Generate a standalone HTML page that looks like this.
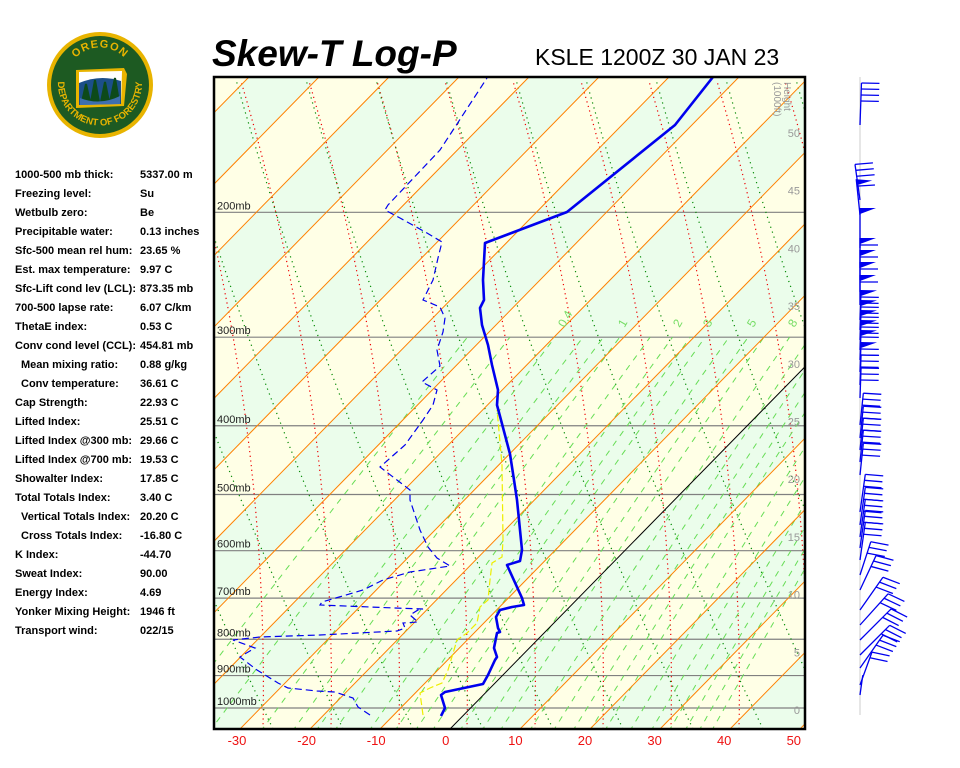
<!DOCTYPE html>
<html><head><meta charset="utf-8"><style>
html,body{margin:0;padding:0;background:#fff;width:960px;height:768px;overflow:hidden}
#p{position:absolute;left:0;top:0;width:960px;height:768px;font-family:"Liberation Sans",Arial,sans-serif}
.t{position:absolute;font-size:11px;font-weight:bold;color:#000;white-space:nowrap}
</style></head><body><div id="p">
<svg id="s" width="960" height="768" xmlns="http://www.w3.org/2000/svg" style="position:absolute;left:0;top:0">
<defs>
<clipPath id="c"><rect x="214" y="77" width="591" height="652"/></clipPath>
<path id="arcT" d="M68,70 A34,34 0 0 1 132,70"/>
<path id="arcB" d="M61,68 A42,42 0 1 0 139,68"/>
</defs>
<g id="logo">
<circle cx="100" cy="85" r="53" fill="#e8b400"/>
<circle cx="100" cy="85" r="49" fill="#1d5a22"/>
<path d="M76,70 L124,68 L127,74 L124,106 L76,108 Z" fill="#e8b400"/>
<path d="M79,72 L122,71 L121,104 L79,105 Z" fill="#fff"/>
<path d="M79,83 Q100,74 121,81 L121,104 L79,105 Z" fill="#1c4f8a"/>
<path d="M82,102 L86,84 L90,102 M91,102 L95,80 L99,102 M101,102 L105,82 L109,102 M110,102 L115,78 L119,102" fill="#0d4a1a" stroke="#0d4a1a" stroke-width="2"/>
<path d="M80,98 Q100,106 120,96 L120,104 L80,105Z" fill="#3e6fb0"/>
<text font-family="Liberation Sans,sans-serif" font-size="11" font-weight="bold" fill="#e8b400" letter-spacing="1"><textPath href="#arcT" startOffset="50%" text-anchor="middle">OREGON</textPath></text>
<text font-family="Liberation Sans,sans-serif" font-size="9.5" font-weight="bold" fill="#e8b400"><textPath href="#arcB" startOffset="50%" text-anchor="middle">DEPARTMENT OF FORESTRY</textPath></text>
</g>
<text x="212" y="66" font-family="Liberation Sans,sans-serif" font-size="37" font-weight="bold" font-style="italic">Skew-T Log-P</text>
<text x="535" y="65" font-family="Liberation Sans,sans-serif" font-size="23">KSLE 1200Z 30 JAN 23</text>
<g id="bg" clip-path="url(#c)"></g>
<g id="lines" clip-path="url(#c)"></g>
<g id="data" clip-path="url(#c)"></g>
<rect x="214" y="77" width="591" height="652" fill="none" stroke="#000" stroke-width="2.5"/>
<g id="ax"></g>
<line x1="860" y1="77" x2="860" y2="715" stroke="#e6e6e6" stroke-width="2"/>
<g id="wb" stroke="#0000ee" stroke-width="1.3" fill="#0000ee"></g>
</svg>
<div id="txt"></div>
</div>
<script>
var NS="http://www.w3.org/2000/svg";
function el(g,n,a,t){var e=document.createElementNS(NS,n);for(var k in a)e.setAttribute(k,a[k]);if(t!=null)e.textContent=t;document.getElementById(g).appendChild(e);return e;}
function Y(p){return 708-308*Math.log(1000/p);}
function XY(T,y){return 450+7*T+0.98*(729-y);}
function X(T,p){return XY(T,Y(p));}
for(var k=-20;k<6;k++){var T0=k*10,T1=T0+10;
 var pts=[XY(T0,729)+",729",XY(T1,729)+",729",XY(T1,77)+",77",XY(T0,77)+",77"].join(" ");
 el("bg","polygon",{points:pts,fill:(Math.abs(k)%2==1)?"#ffffe6":"#ebfdeb"});}
[1000,900,800,700,600,500,400,300,200].forEach(function(p){var y=Y(p);
 el("lines","line",{x1:214,y1:y,x2:805,y2:y,stroke:"#808080","stroke-width":1.2});
 el("ax","text",{x:217,y:y-3,"font-size":11,"font-family":"Liberation Sans,sans-serif",fill:"#222"},p+"mb");});
function poly(g,arr,attrs){attrs.points=arr.map(function(a){return a[0].toFixed(1)+","+a[1].toFixed(1)}).join(" ");attrs.fill="none";return el(g,"polyline",attrs);}
for(var k=-6;k<6;k++){var xb=535+68*k,a=[];
 for(var y=729;y>=77;y-=8){var d=729-y;a.push([xb-0.16*d*d/652+0.02*d,y]);}
 poly("lines",a,{stroke:"#ee0000","stroke-width":1.2,"stroke-dasharray":"1.2 3.5"});}
for(var k=-4;k<12;k++){var xb=483+70*k,a=[];
 for(var y=729;y>=77;y-=8){var d=729-y;a.push([xb-0.48*d+0.1*d*d/652,y]);}
 poly("lines",a,{stroke:"#008800","stroke-width":1.2,"stroke-dasharray":"1.2 4"});}
[0.1,0.2,0.4,0.6,0.8,1,1.5,2,2.5,3,4,5,6,8,10,12,14,16,20,24,28,32,36,40].forEach(function(w){var a=[];
 for(var p=1080;p>=300;p-=10){var e=w*p/(622+w),L=Math.log(e/6.112),T=243.5*L/(17.67-L);a.push([X(T,p),Y(p)]);}
 poly("lines",a,{stroke:"#66dd55","stroke-width":1,"stroke-dasharray":"6 6"});});
[["0.4",561],["1",621],["2",676],["3",706],["5",750],["8",791]].forEach(function(l){
 el("ax","text",{x:l[1],y:330,"font-size":12,"font-family":"Liberation Sans,sans-serif",fill:"#77dd66",transform:"rotate(-60 "+l[1]+" 326)"},l[0]);});
for(var T=-150;T<=60;T+=10){el("lines","line",{x1:XY(T,729),y1:729,x2:XY(T,77),y2:77,stroke:T==0?"#000":"#ff8000","stroke-width":1});}
var yel=[[423,715],[420,693],[430,688],[442,683],[448,670],[457,640],[467,633],[477,623],[480,607],[488,600],[490,580],[492,563],[502,557],[503,540],[502,465],[498,420],[497,410]];
poly("data",yel,{stroke:"#eeee00","stroke-width":1.2,"stroke-dasharray":"7 3"});
var dew=[[370,715],[358,707],[353,698],[335,692],[317,691],[288,688],[278,683],[257,670],[240,657],[243,655],[255,648],[233,640],[260,637],[320,635],[397,631],[405,628],[403,623],[418,622],[410,615],[418,610],[423,609],[395,608],[320,605],[322,602],[363,590],[383,580],[410,572],[450,566],[437,558],[428,547],[420,530],[410,500],[410,490],[380,467],[405,445],[423,420],[433,405],[437,390],[422,382],[440,366],[437,350],[443,332],[445,318],[440,307],[423,300],[433,280],[438,258],[442,242],[427,233],[400,218],[385,210],[388,205],[440,150],[487,78]];
poly("data",dew,{stroke:"#0000ee","stroke-width":1.2,"stroke-dasharray":"7 4"});
var tmp=[[441,716],[445,708],[441,695],[445,692],[483,684],[488,675],[495,660],[497,657],[494,648],[497,633],[500,632],[498,628],[496,617],[500,610],[512,607],[524,605],[522,598],[507,565],[520,561],[522,550],[520,530],[517,500],[514,480],[510,454],[501,420],[497,405],[498,390],[492,365],[488,345],[482,325],[480,308],[484,300],[483,280],[485,243],[567,212],[675,125],[713,77]];
poly("data",tmp,{stroke:"#0000ee","stroke-width":2.6,"stroke-linejoin":"round"});
for(var i=0;i<9;i++){var v=-30+10*i;el("ax","text",{x:237+69.6*i,y:745,"font-size":13,"font-family":"Liberation Sans,sans-serif",fill:"#ee1111","text-anchor":"middle"},v);}
for(var h=0;h<=50;h+=5){var y=710-h*11.54;el("ax","text",{x:800,y:y+4,"font-size":11,"font-family":"Liberation Sans,sans-serif",fill:"#999","text-anchor":"end"},h);}
el("ax","text",{x:784,y:82,"font-size":10,"font-family":"Liberation Sans,sans-serif",fill:"#999",transform:"rotate(90 784 82)"},"Height");
el("ax","text",{x:774,y:82,"font-size":10,"font-family":"Liberation Sans,sans-serif",fill:"#999",transform:"rotate(90 774 82)"},"(1000ft)");
function barb(yb,len,ang,full,pen){var r=ang*Math.PI/180,dx=Math.sin(r),dy=-Math.cos(r);
 var x0=860,x1=x0+dx*len,y1=yb+dy*len;el("wb","line",{x1:x0,y1:yb,x2:x1,y2:y1});
 var pos=0;for(var i=0;i<pen;i++){var ax=x1-dx*pos,ay=y1-dy*pos,bx=x1-dx*(pos+6),by=y1-dy*(pos+6);
  el("wb","polygon",{points:ax+","+ay+" "+(ax+16)+","+(ay+2*Math.abs(dx)*6)+" "+bx+","+by,stroke:"none"});pos+=7;}
 for(var i=0;i<full;i++){var ax=x1-dx*pos,ay=y1-dy*pos,bl=18,ba=r*0.6;
  el("wb","line",{x1:ax,y1:ay,x2:ax+bl*Math.cos(ba),y2:ay+bl*Math.sin(ba)});pos+=6;}}
barb(125,42,2,4,0);
[[200,36,-8,3,0],[215,36,-6,1,1],[248,40,0,0,1],[268,30,0,1,1],[280,30,0,1,1],[292,30,0,1,1],[305,30,0,1,1],[320,30,2,2,1],[330,30,2,2,1],[340,30,2,2,1],[350,30,2,2,1],[360,30,2,1,1],[372,30,2,2,1],[385,30,2,3,0],[398,30,2,3,0]].forEach(function(b){barb(b[0],b[1],b[2],b[3],b[4]);});
[425,438,450,462,475].forEach(function(y){barb(y,32,6,3,0);});
[512,525,537,548,560].forEach(function(y){barb(y,38,8,3,0);});
barb(575,35,18,3,0);barb(590,38,25,3,0);barb(610,40,35,3,0);barb(625,42,42,3,0);barb(640,44,45,3,0);barb(655,42,45,3,0);barb(668,40,35,3,0);barb(685,35,20,2,0);barb(695,20,8,0,0);
var rows=[["1000-500 mb thick:","5337.00 m"],["Freezing level:","Su"],["Wetbulb zero:","Be"],["Precipitable water:","0.13 inches"],["Sfc-500 mean rel hum:","23.65 %"],["Est. max temperature:","9.97 C"],["Sfc-Lift cond lev (LCL):","873.35 mb"],["700-500 lapse rate:","6.07 C/km"],["ThetaE index:","0.53 C"],["Conv cond level (CCL):","454.81 mb"],[" Mean mixing ratio:","0.88 g/kg"],[" Conv temperature:","36.61 C"],["Cap Strength:","22.93 C"],["Lifted Index:","25.51 C"],["Lifted Index @300 mb:","29.66 C"],["Lifted Index @700 mb:","19.53 C"],["Showalter Index:","17.85 C"],["Total Totals Index:","3.40 C"],[" Vertical Totals Index:","20.20 C"],[" Cross Totals Index:","-16.80 C"],["K Index:","-44.70"],["Sweat Index:","90.00"],["Energy Index:","4.69"],["Yonker Mixing Height:","1946 ft"],["Transport wind:","022/15"]];
var h="";rows.forEach(function(r,i){var y=169+19*i,ind=r[0][0]==" "?6:0;
 h+='<div class="t" style="left:'+(15+ind)+'px;top:'+y+'px">'+r[0].trim()+'</div><div class="t" style="left:140px;top:'+y+'px">'+r[1]+'</div>';});
document.getElementById("txt").innerHTML=h;
</script>
</body></html>
